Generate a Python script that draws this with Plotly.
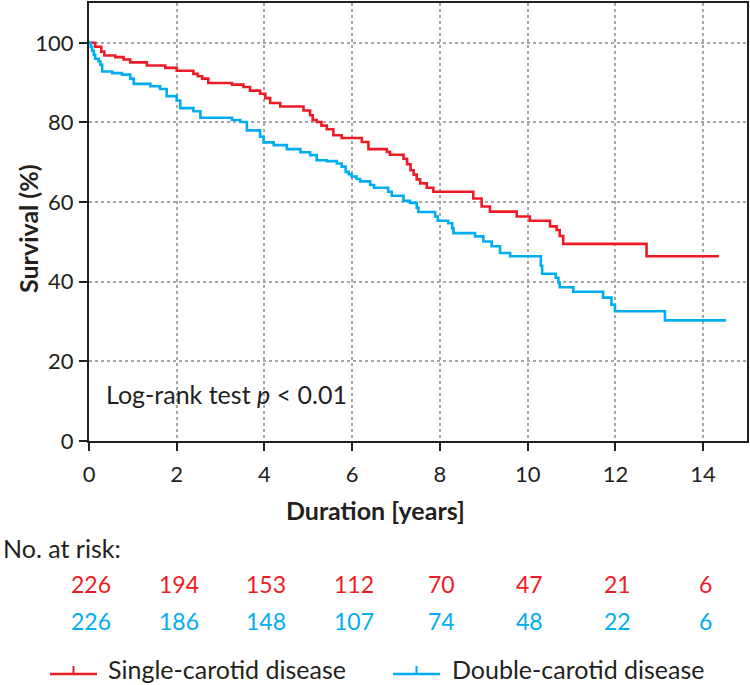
import plotly.graph_objects as go

# ---- data ----
single_t = [0, 0.14, 0.28, 0.35, 0.60, 0.79, 0.94, 1.32, 1.74, 2.00, 2.38, 2.48, 2.58, 2.72,
            3.26, 3.52, 3.67, 3.90, 4.02, 4.13, 4.36, 4.89, 5.04, 5.10, 5.19, 5.30, 5.42,
            5.57, 5.76, 6.22, 6.37, 6.79, 6.86, 7.17, 7.25, 7.33, 7.40, 7.47, 7.55, 7.70,
            7.85, 8.76, 8.95, 9.14, 9.75, 10.05, 10.51, 10.66, 10.73, 10.81, 12.71, 14.36]
single_s = [100, 99.0, 97.8, 96.8, 96.4, 95.8, 95.1, 94.3, 93.7, 93.0, 92.2, 91.6, 91.0, 89.9,
            89.5, 88.9, 88.0, 87.2, 86.1, 84.9, 84.0, 83.0, 81.8, 80.6, 80.1, 79.2, 78.3,
            76.8, 76.1, 75.1, 73.3, 72.6, 71.9, 70.9, 69.5, 68.0, 66.9, 65.7, 64.7, 63.6,
            62.6, 60.9, 58.9, 57.6, 56.4, 55.3, 53.9, 53.0, 51.5, 49.5, 46.4, 46.4]

double_t = [0, 0.04, 0.07, 0.11, 0.14, 0.22, 0.26, 0.30, 0.53, 0.75, 0.94, 1.02, 1.40, 1.62,
            1.77, 2.00, 2.08, 2.38, 2.54, 3.26, 3.45, 3.60, 3.90, 3.98, 4.21, 4.51, 4.82,
            5.04, 5.19, 5.42, 5.65, 5.76, 5.85, 5.92, 5.99, 6.10, 6.18, 6.41, 6.50, 6.82,
            6.90, 7.17, 7.32, 7.47, 7.51, 7.89, 7.95, 8.19, 8.28, 8.31, 8.80, 8.99, 9.18,
            9.37, 9.60, 10.30, 10.33, 10.64, 10.70, 10.73, 11.04, 11.72, 11.91, 11.99,
            13.13, 14.52]
double_s = [100, 99.0, 98.0, 97.0, 96.0, 95.3, 94.5, 92.8, 92.4, 92.0, 91.0, 89.7, 89.1, 88.4,
            86.6, 85.5, 83.6, 82.8, 81.2, 80.6, 80.1, 78.0, 76.4, 75.0, 74.3, 73.3, 72.5,
            71.8, 70.5, 70.3, 69.7, 68.9, 67.6, 67.0, 66.4, 65.8, 65.2, 64.3, 63.6, 62.6,
            61.6, 60.3, 59.8, 58.6, 57.5, 56.4, 55.3, 54.7, 53.4, 52.2, 51.4, 50.1, 48.9,
            47.2, 46.4, 44.0, 42.0, 41.0, 39.8, 38.6, 37.5, 36.0, 34.2, 32.6,
            30.3, 30.3]

risk_times = [0, 2, 4, 6, 8, 10, 12, 14]
risk_single = [226, 194, 153, 112, 70, 47, 21, 6]
risk_double = [226, 186, 148, 107, 74, 48, 22, 6]

x_ticks = [0, 2, 4, 6, 8, 10, 12, 14]
y_ticks = [0, 20, 40, 60, 80, 100]

series_names = ["Single-carotid disease", "Double-carotid disease"]

RED = "#ED1C24"
BLUE = "#00AEEF"
INK = "#231F20"
FONT = "Lato"
TXT = 25     # letter text size
NUM = 22     # digits size

# ---- layout geometry (pixels) ----
W, H = 750, 685
ML, MR, MT, MB = 89, 3, 1, 244
PW, PH = W - ML - MR, H - MT - MB


def px(x):
    return (x - ML) / PW


def py(y):
    return (H - MB - y) / PH


fig = go.Figure()
fig.add_trace(go.Scatter(x=single_t, y=single_s, mode="lines", line_shape="hv",
                         line=dict(color=RED, width=2.6), name=series_names[0],
                         showlegend=False))
fig.add_trace(go.Scatter(x=double_t, y=double_s, mode="lines", line_shape="hv",
                         line=dict(color=BLUE, width=2.6), name=series_names[1],
                         showlegend=False))

axis_common = dict(showline=True, linecolor=INK, linewidth=2, mirror=True,
                   ticks="outside", ticklen=8, tickwidth=2, tickcolor=INK,
                   showgrid=True, gridcolor="#a6a6a6", gridwidth=1.5, griddash="dot",
                   zeroline=False, tickfont=dict(family=FONT, size=NUM, color=INK))

fig.update_xaxes(range=[0, 15], tickvals=x_ticks, ticktext=[str(v) for v in x_ticks],
                 ticklabelstandoff=5, **axis_common)
fig.update_yaxes(range=[0, 110], tickvals=y_ticks, ticktext=[str(v) for v in y_ticks],
                 ticklabelstandoff=1,
                 **axis_common)

ann = []
ann.append(dict(text="<b>Survival (%)</b>", xref="paper", yref="paper",
                x=px(28), y=py(228), xanchor="center", yanchor="middle", textangle=-90,
                showarrow=False, font=dict(family=FONT, size=TXT, color=INK)))
ann.append(dict(text="Log-rank test <i>p</i> &lt; 0.01", xref="paper", yref="paper",
                x=px(104), y=py(394), xanchor="left", yanchor="middle", showarrow=False,
                font=dict(family=FONT, size=TXT, color=INK)))
ann.append(dict(text="<b>Duration [years]</b>", xref="paper", yref="paper",
                x=px(375), y=py(510), xanchor="center", yanchor="middle", showarrow=False,
                font=dict(family=FONT, size=TXT, color=INK)))
ann.append(dict(text="No. at risk:", xref="paper", yref="paper",
                x=px(1), y=py(548), xanchor="left", yanchor="middle", showarrow=False,
                font=dict(family=FONT, size=TXT, color=INK)))
for t, a, b in zip(risk_times, risk_single, risk_double):
    ann.append(dict(text=str(a), xref="x", yref="paper", x=t, y=py(585), xanchor="center",
                    yanchor="middle", showarrow=False, xshift=2,
                    font=dict(family=FONT, size=NUM + 1, color=RED)))
    ann.append(dict(text=str(b), xref="x", yref="paper", x=t, y=py(622), xanchor="center",
                    yanchor="middle", showarrow=False, xshift=2,
                    font=dict(family=FONT, size=NUM + 1, color=BLUE)))

# legend drawn manually (line with censor tick)
shapes = []
for (x0, x1, tx, col, name) in [(50, 97, 106, RED, series_names[0]),
                                 (393, 440, 450, BLUE, series_names[1])]:
    shapes.append(dict(type="line", xref="paper", yref="paper", x0=px(x0), x1=px(x1),
                       y0=py(675), y1=py(675), line=dict(color=col, width=2.6)))
    xm = (x0 + x1) / 2
    shapes.append(dict(type="line", xref="paper", yref="paper", x0=px(xm), x1=px(xm),
                       y0=py(675), y1=py(667), line=dict(color=col, width=2)))
    ann.append(dict(text=name, xref="paper", yref="paper", x=px(tx), y=py(670),
                    xanchor="left", yanchor="middle", showarrow=False,
                    font=dict(family=FONT, size=TXT, color=INK)))

fig.update_layout(width=W, height=H, margin=dict(l=ML, r=MR, t=MT, b=MB),
                  paper_bgcolor="white", plot_bgcolor="white",
                  annotations=ann, shapes=shapes, showlegend=False,
                  font=dict(family=FONT, size=NUM, color=INK))

fig.write_html("out.html", config={"displayModeBar": False},
               post_script="document.body.style.margin='0';document.body.style.padding='0';")
